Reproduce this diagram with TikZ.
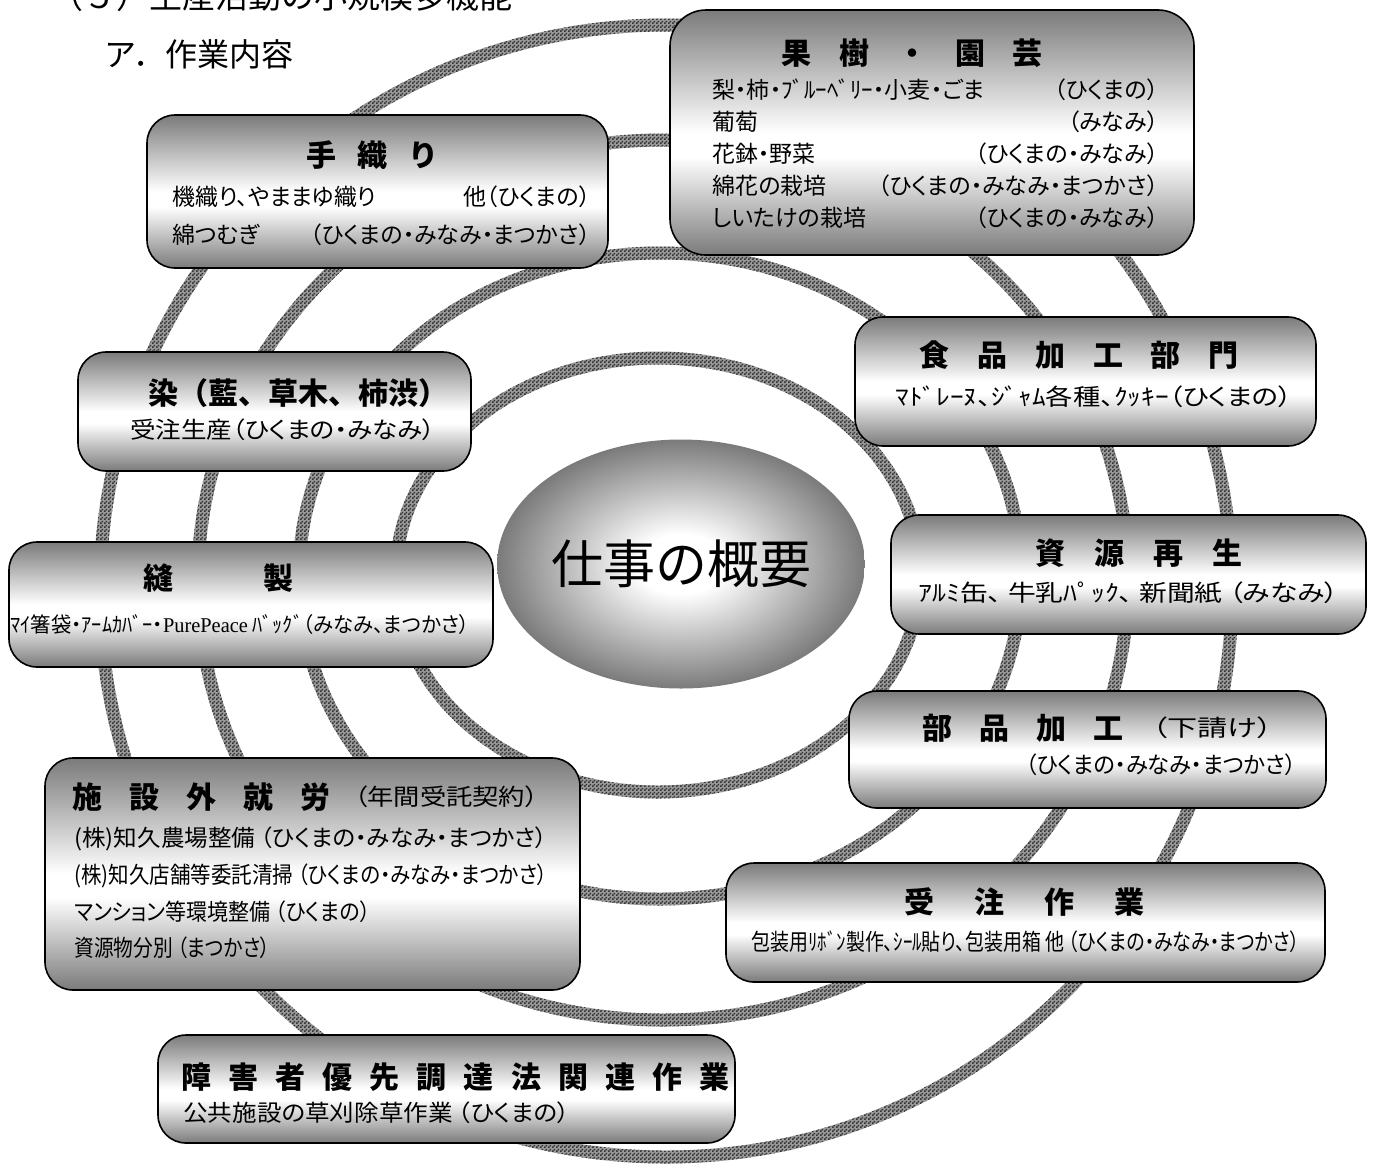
\documentclass[tikz,border=0pt]{standalone}
\usepackage{fontspec}
\usepackage{graphicx}
\setmainfont{Noto Sans CJK JP}
\newfontfamily\bodyjp{Noto Sans CJK JP}[RawFeature=+palt]
\newfontfamily\latinserif{Liberation Serif}
\usetikzlibrary{shapes,fit,patterns.meta}

\pgfdeclareverticalshading{boxfade}{100bp}{color(0bp)=(black!52); color(25bp)=(black!52); color(45bp)=(white); color(50bp)=(white); color(75bp)=(black!52); color(100bp)=(black!52)}
\pgfdeclareradialshading{hubfade}{\pgfpoint{0bp}{0bp}}{color(0bp)=(white); color(6bp)=(white); color(25bp)=(black!52); color(50bp)=(black!52)}

\tikzdeclarepattern{name=ringdots, type=uncolored,
  bounding box={(0pt,0pt) and (2pt,2pt)}, tile size={(2pt,2pt)},
  code={\pgfpathrectangle{\pgfpoint{0pt}{0pt}}{\pgfpoint{1pt}{1pt}}
        \pgfpathrectangle{\pgfpoint{1pt}{1pt}}{\pgfpoint{1pt}{1pt}}
        \pgfusepath{fill}}}

\newcommand\spread[1]{\addfontfeature{LetterSpace=#1}}
\newcommand\fitw[2]{\resizebox{#1}{\height}{#2}}

\tikzset{
  box/.style={draw=black, line width=0.8pt, rounded corners=14pt, shade, shading=boxfade, inner sep=0pt},
  head/.style={anchor=west, inner sep=0pt, font=\fontsize{15}{18}\selectfont\bfseries},
  body/.style={anchor=west, inner sep=0pt, font=\bodyjp\fontsize{11.5}{16}\selectfont},
  ring/.style={fill=black!40, even odd rule,
    postaction={pattern=ringdots, pattern color=black!80, even odd rule}}
}

\begin{document}
\begin{tikzpicture}[x=0.5pt,y=-0.5pt]
\useasboundingbox (0,0) rectangle (1374,1167);

% rings behind everything
\foreach \cx/\cy/\rx/\ry in {658/575/262/217, 660/576/361/323, 663/580/465/440, 666/591/566/566}
  \path[ring] (\cx,\cy) ellipse [x radius=\rx+6.5, y radius=\ry+6.5]
              (\cx,\cy) ellipse [x radius=\rx-6.5, y radius=\ry-6.5];

\node[anchor=base west, inner sep=0pt, font=\fontsize{16.5}{20}\selectfont] (sectiontitle) at (50,9) {（５）生産活動の小規模多機能};
\node[anchor=base west, inner sep=0pt, font=\fontsize{16}{20}\selectfont] (subtitle) at (104,66) {ア．作業内容};

% boxes
\node[box, fit={(147,115) (608,268)}]                     (weave)    {};
\node[box, rounded corners=18pt, fit={(670,10) (1194,255)}] (fruit)  {};
\node[box, fit={(78,352) (471,471)}]                      (dye)      {};
\node[box, fit={(855,317) (1316,446)}]                    (food)     {};
\node[box, fit={(9,542) (493,667)}]                       (sew)      {};
\node[box, fit={(891,515) (1366,634)}]                    (recycle)  {};
\node[box, fit={(849,691) (1326,808)}]                    (parts)    {};
\node[box, fit={(45,758) (580,990)}]                      (outside)  {};
\node[box, fit={(726,863) (1325,982)}]                    (order)    {};
\node[box, fit={(158,1035) (735,1143)}]                   (priority) {};

\node[ellipse, shade, shading=hubfade, minimum width=174pt, minimum height=124.5pt,
      inner sep=0pt, font=\fontsize{26}{30}\selectfont] (hub) at (681,564) {仕事の概要};

% headings
\node[head] (weavehd)    at (306,155)  {\spread{70}手織り};
\node[head] (fruithd)    at (781,53)   {\spread{93}果樹・園芸};
\node[head] (dyehd)      at (148,393)  {染（藍、草木、柿渋）};
\node[head] (sewhd)      at (143,578)  {縫\hspace{45pt}製};
\node[head] (foodhd)     at (919,355)  {\spread{93}食品加工部門};
\node[head] (recyclehd)  at (1035,553) {\spread{97}資源再生};
\node[head] (partshd)    at (922,728)  {\spread{90}部品加工};
\node[body] (partssub)   at (1152,728) {\fitw{60pt}{（下請け）}};
\node[head] (outsidehd)  at (72,797)   {\spread{90}施設外就労};
\node[body] (outsidesub) at (354,797)  {\fitw{92pt}{（年間受託契約）}};
\node[head] (priorityhd) at (181,1077) {\spread{57}障害者優先調達法関連作業};
\node[head] (orderhd)    at (904,902)  {\spread{133}受注作業};

% body lines
\node[body, text width=209pt, align=left, font=\bodyjp\fontsize{11.5}{19}\selectfont] (weavetxt) at (172,216)
  {機織り、やままゆ織り\hfill 他（ひくまの）\\ 綿つむぎ\hfill（ひくまの・みなみ・まつかさ）};
\node[body, text width=223pt, align=left] (fruittxt) at (712,153.5)
  {梨・柿・ﾌﾞﾙｰﾍﾞﾘｰ・小麦・ごま\hfill（ひくまの）\\
   葡萄\hfill（みなみ）\\
   花鉢・野菜\hfill（ひくまの・みなみ）\\
   綿花の栽培\hfill（ひくまの・みなみ・まつかさ）\\
   しいたけの栽培\hfill（ひくまの・みなみ）};
\node[body] (dyetxt)      at (130,430)  {\fitw{152.5pt}{受注生産（ひくまの・みなみ）}};
\node[body, font=\bodyjp\fontsize{10.5}{14}\selectfont] (sewtxt) at (10,625)
  {\fitw{229.5pt}{ﾏｲ箸袋・ｱｰﾑｶﾊﾞｰ・{\latinserif PurePeace} ﾊﾞｯｸﾞ（みなみ、まつかさ）}};
\node[body] (foodtxt)     at (895,397)  {\fitw{198.5pt}{ﾏﾄﾞﾚｰﾇ、ｼﾞｬﾑ各種、ｸｯｷｰ（ひくまの）}};
\node[body] (recycletxt)  at (918,593)  {\fitw{210pt}{ｱﾙﾐ缶、 牛乳ﾊﾟｯｸ、 新聞紙 （みなみ）}};
\node[body, anchor=east] (partstxt) at (1297,765) {\fitw{135.5pt}{（ひくまの・みなみ・まつかさ）}};
\node[body, align=left, font=\bodyjp\fontsize{11.5}{18.3}\selectfont] (outsidetxt) at (74,893)
  {\fitw{236.5pt}{(株)知久農場整備 （ひくまの・みなみ・まつかさ）}\\
   \fitw{236.5pt}{(株)知久店舗等委託清掃 （ひくまの・みなみ・まつかさ）}\\
   \fitw{148pt}{マンション等環境整備 （ひくまの）}\\
   \fitw{98pt}{資源物分別 （まつかさ）}};
\node[body] (prioritytxt) at (183,1113) {\fitw{193pt}{公共施設の草刈除草作業 （ひくまの）}};
\node[body] (ordertxt)    at (751,942)  {\fitw{274pt}{包装用ﾘﾎﾞﾝ製作、ｼｰﾙ貼り、包装用箱 他 （ひくまの・みなみ・まつかさ）}};

\end{tikzpicture}
\end{document}
